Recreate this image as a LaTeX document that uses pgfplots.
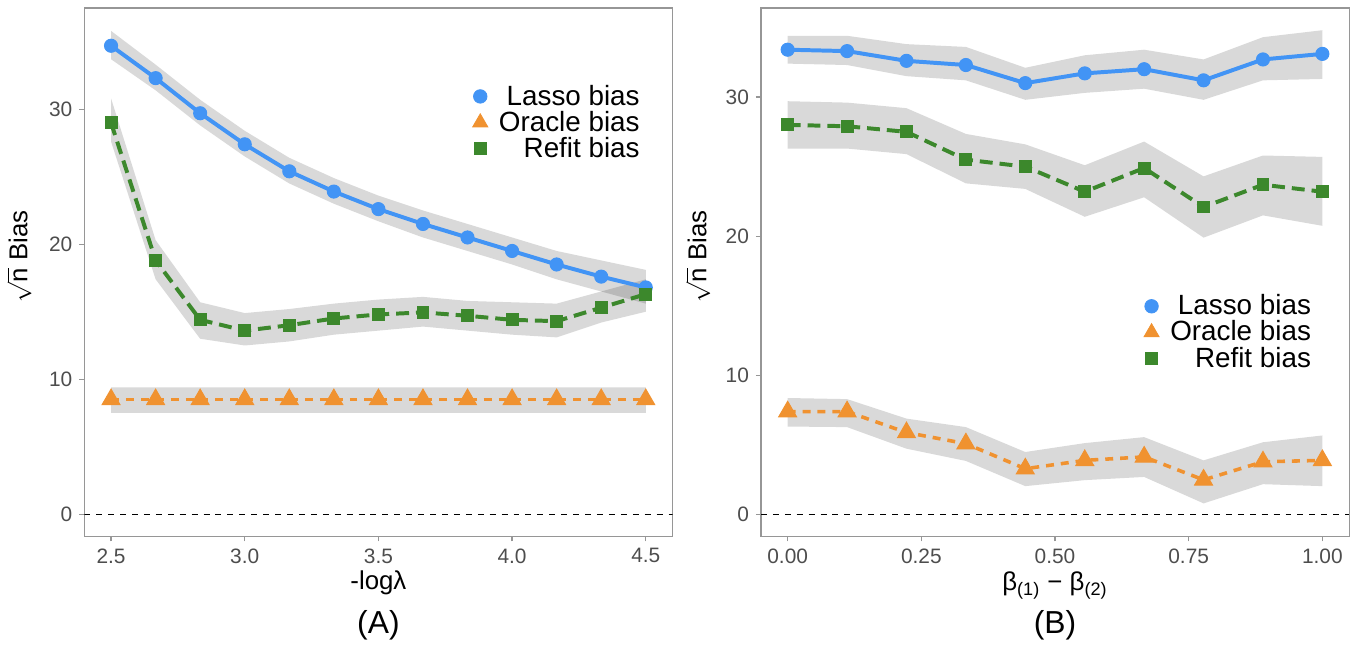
\documentclass[border=0pt]{standalone}
\usepackage{pgfplots}
\pgfplotsset{compat=1.18}
\usepgfplotslibrary{fillbetween}
\usepackage{pgfplotstable}
\usepackage{fontspec}
\setmainfont{Liberation Sans}

\definecolor{lassoc}{RGB}{66,148,245}
\definecolor{oraclec}{RGB}{240,146,48}
\definecolor{refitc}{RGB}{60,136,44}
\definecolor{framec}{RGB}{150,150,150}
\definecolor{tickc}{RGB}{77,77,77}

% panel A: x = -log lambda
\pgfplotstableread{
x      lasso llo  lhi  oracle olo ohi refit rlo  rhi
2.5    34.7  33.7 35.8 8.5    7.5 9.4 29.0  27.6 30.8
2.6667 32.3  31.4 33.3 8.5    7.5 9.4 18.8  17.4 20.3
2.8333 29.7  28.8 30.7 8.5    7.5 9.4 14.4  13.0 15.7
3.0    27.4  26.5 28.4 8.5    7.5 9.4 13.6  12.5 14.9
3.1667 25.4  24.5 26.4 8.5    7.5 9.4 14.0  12.8 15.2
3.3333 23.9  23.0 24.9 8.5    7.5 9.4 14.5  13.3 15.6
3.5    22.6  21.7 23.6 8.5    7.5 9.4 14.8  13.6 15.9
3.6667 21.5  20.5 22.5 8.5    7.5 9.4 14.95 13.9 16.1
3.8333 20.5  19.5 21.5 8.5    7.5 9.4 14.7  13.6 15.8
4.0    19.5  18.5 20.5 8.5    7.5 9.4 14.4  13.3 15.7
4.1667 18.5  17.4 19.5 8.5    7.5 9.4 14.3  13.1 15.6
4.3333 17.6  16.5 18.8 8.5    7.5 9.4 15.3  14.2 16.5
4.5    16.8  15.6 18.1 8.5    7.5 9.4 16.3  15.0 17.4
}\dataA

% panel B: x = beta(1) - beta(2)
\pgfplotstableread{
x      lasso llo  lhi  oracle olo  ohi  refit rlo   rhi
0.0    33.4  32.4 34.4 7.4    6.33 8.38 28.0  26.3  29.7
0.1111 33.3  32.3 34.4 7.4    6.29 8.30 27.9  26.3  29.6
0.2222 32.6  31.5 33.8 5.9    4.74 6.90 27.5  25.9  29.2
0.3333 32.3  31.2 33.6 5.1    3.86 6.29 25.5  23.8  27.35
0.4444 31.0  29.8 32.1 3.3    2.05 4.50 25.0  23.4  26.6
0.5556 31.7  30.3 33.0 3.9    2.48 5.14 23.2  21.4  25.1
0.6667 32.0  30.6 33.4 4.15   2.71 5.57 24.9  22.8  26.8
0.7778 31.2  29.8 32.7 2.5    0.81 3.90 22.1  19.9  24.3
0.8889 32.7  31.2 34.3 3.8    2.19 5.20 23.7  21.5  25.8
1.0    33.1  31.3 34.8 3.9    2.05 5.69 23.2  20.75 25.7
}\dataB

\pgfplotsset{
  panel/.style={
    scale only axis, width=296pt, height=266pt,
    anchor=south west, clip mode=individual,
    axis line style={framec, line width=0.6pt},
    tick style={framec, line width=0.6pt},
    major tick length=2.5pt, tick align=outside,
    xtick pos=bottom, ytick pos=left,
    tick label style={font=\fontsize{10.5}{10.5}\selectfont, color=tickc},
    /pgf/number format/assume math mode=true,
    ytick={0,10,20,30},
    label style={font=\fontsize{13}{13}\selectfont},
    ylabel={$\sqrt{\mbox{n}}$ Bias},
    legend cell align=right,
    legend style={draw=none, fill=none, font=\fontsize{14}{14}\selectfont,
                  nodes={inner sep=0.6pt}, row sep=0.3pt, column sep=5pt},
  },
  ribbon/.style={fill=black, fill opacity=0.15, draw=none, forget plot},
  lassoline/.style={lassoc, line width=2pt, mark=*, mark size=3.3pt,
                    mark options={solid, line width=0.5pt}, forget plot},
  refitline/.style={refitc, line width=2pt, dash pattern=on 6.5pt off 3.5pt,
                    mark=square*, mark size=3pt,
                    mark options={solid, line width=0.5pt}, forget plot},
  oracleline/.style={oraclec, line width=1.8pt, dash pattern=on 4pt off 3.5pt,
                     mark=triangle*, mark size=5.2pt,
                     mark options={solid, line width=0.5pt}, forget plot},
  zeroline/.style={black, line width=0.6pt, dash pattern=on 3pt off 3pt, forget plot},
}

\begin{document}
\begin{tikzpicture}

% ---------- (A) ----------
\begin{axis}[panel, at={(38pt,-270pt)},
  xmin=2.4, xmax=4.6, ymin=-1.65, ymax=37.5,
  xtick={2.5,3,3.5,4,4.5},
  xticklabel style={/pgf/number format/.cd, fixed, fixed zerofill, precision=1},
  ylabel style={at={(axis description cs:-0.078,0.53)}},
  legend style={at={(axis description cs:0.957,0.865)}, anchor=north east},
]
\addplot[zeroline] coordinates {(2.4,0) (4.6,0)};

\addplot[name path=lA, draw=none, forget plot] table[x=x, y=llo] {\dataA};
\addplot[name path=uA, draw=none, forget plot] table[x=x, y=lhi] {\dataA};
\addplot[ribbon] fill between[of=uA and lA];
\addplot[name path=lB, draw=none, forget plot] table[x=x, y=olo] {\dataA};
\addplot[name path=uB, draw=none, forget plot] table[x=x, y=ohi] {\dataA};
\addplot[ribbon] fill between[of=uB and lB];
\addplot[name path=lC, draw=none, forget plot] table[x=x, y=rlo] {\dataA};
\addplot[name path=uC, draw=none, forget plot] table[x=x, y=rhi] {\dataA};
\addplot[ribbon] fill between[of=uC and lC];

\addplot[lassoline] table[x=x, y=lasso] {\dataA};
\addplot[oracleline] table[x=x, y=oracle] {\dataA};
\addplot[refitline] table[x=x, y=refit] {\dataA};

\addlegendimage{only marks, mark=*, lassoc, mark size=3.4pt}
\addlegendentry{Lasso bias}
\addlegendimage{only marks, mark=triangle*, oraclec, mark size=4.4pt}
\addlegendentry{Oracle bias}
\addlegendimage{only marks, mark=square*, refitc, mark size=3.1pt}
\addlegendentry{Refit bias}

\node[font=\fontsize{13}{13}\selectfont] at (axis description cs:0.5,-0.087) {-logλ};
\node[font=\fontsize{16}{16}\selectfont] at (axis description cs:0.5,-0.168) {(A)};
\end{axis}

% ---------- (B) ----------
\begin{axis}[panel, at={(378.5pt,-270pt)},
  xmin=-0.05, xmax=1.05, ymin=-1.57, ymax=36.4,
  xtick={0,0.25,0.5,0.75,1},
  xticklabel style={/pgf/number format/.cd, fixed, fixed zerofill, precision=2},
  ylabel style={at={(axis description cs:-0.074,0.53)}},
  legend style={at={(axis description cs:0.948,0.468)}, anchor=north east},
]
\addplot[zeroline] coordinates {(-0.05,0) (1.05,0)};

\addplot[name path=lA, draw=none, forget plot] table[x=x, y=llo] {\dataB};
\addplot[name path=uA, draw=none, forget plot] table[x=x, y=lhi] {\dataB};
\addplot[ribbon] fill between[of=uA and lA];
\addplot[name path=lB, draw=none, forget plot] table[x=x, y=olo] {\dataB};
\addplot[name path=uB, draw=none, forget plot] table[x=x, y=ohi] {\dataB};
\addplot[ribbon] fill between[of=uB and lB];
\addplot[name path=lC, draw=none, forget plot] table[x=x, y=rlo] {\dataB};
\addplot[name path=uC, draw=none, forget plot] table[x=x, y=rhi] {\dataB};
\addplot[ribbon] fill between[of=uC and lC];

\addplot[lassoline] table[x=x, y=lasso] {\dataB};
\addplot[oracleline] table[x=x, y=oracle] {\dataB};
\addplot[refitline] table[x=x, y=refit] {\dataB};

\addlegendimage{only marks, mark=*, lassoc, mark size=3.4pt}
\addlegendentry{Lasso bias}
\addlegendimage{only marks, mark=triangle*, oraclec, mark size=4.4pt}
\addlegendentry{Oracle bias}
\addlegendimage{only marks, mark=square*, refitc, mark size=3.1pt}
\addlegendentry{Refit bias}

\node[font=\fontsize{13}{13}\selectfont] at (axis description cs:0.5,-0.092)
  {β\textsubscript{(1)} − β\textsubscript{(2)}};
\node[font=\fontsize{16}{16}\selectfont] at (axis description cs:0.5,-0.168) {(B)};
\end{axis}

\path (0,0) rectangle (682.5pt,-324pt);
\end{tikzpicture}
\end{document}
